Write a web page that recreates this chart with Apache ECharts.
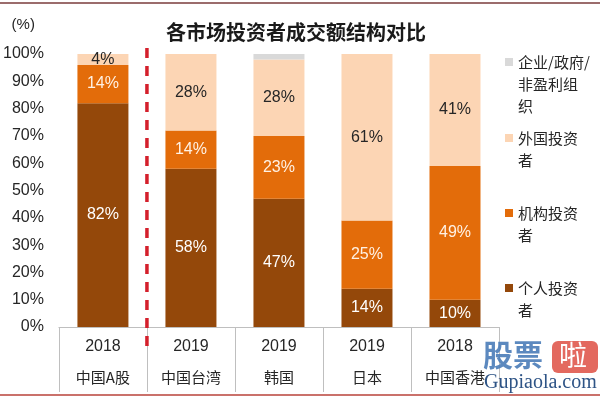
<!DOCTYPE html>
<html lang="zh">
<head>
    <meta charset="UTF-8">
    <title>各市场投资者成交额结构对比</title>
    <script src="https://cdn.jsdelivr.net/npm/echarts@6/dist/echarts.min.js"></script>
    <style>
        body { margin: 0; background: #fff; }
    </style>
</head>
<body>
    <div id="chart" style="width: 600px; height: 397px;"></div>
    <script type="text/javascript">
        // categories
        const years = ['2018', '2019', '2019', '2019', '2018'];
        const markets = ['中国A股', '中国台湾', '韩国', '日本', '中国香港'];

        // series values (%)
        const individual = [82, 58, 47, 14, 10];
        const institution = [14, 14, 23, 25, 49];
        const foreign = [4, 28, 28, 61, 41];
        const other = [0, 0, 2, 0, 0];

        const seriesNames = ['个人投资者', '机构投资者', '外国投资者', '企业/政府/非盈利组织'];
        const legendLabels = ['个人投资\n者', '机构投资\n者', '外国投资\n者', '企业/政府/\n非盈利组\n织'];
        const colors = ['#94480A', '#E36C0A', '#FCD5B4', '#D9D9D9'];
        const labelColors = ['#ffffff', '#FFF1E4', '#262626', '#262626'];

        const yTicks = { min: 0, max: 100, interval: 10 };

        const cjk = '"Noto Sans CJK SC", sans-serif';
        const latin = '"Liberation Sans", Arial, sans-serif';

        const chart = echarts.init(document.getElementById('chart'), null, { renderer: 'canvas' });

        const values = [individual, institution, foreign, other];

        // one legend per item; blank lines above the text keep the icon on its first line
        const legendIconY = [288, 213, 138, 62];
        const lh = 22;
        const legends = seriesNames.map((name, i) => {
            const lines = legendLabels[i].split('\n').length;
            const h = (2 * lines - 1) * lh;
            const pad = ' \n'.repeat(lines - 1);
            return {
                data: [name],
                orient: 'vertical',
                left: 505,
                top: legendIconY[i] - h / 2,
                padding: 0,
                itemWidth: 8,
                itemHeight: 8,
                icon: 'rect',
                formatter: () => pad + legendLabels[i],
                textStyle: {
                    fontFamily: cjk,
                    fontSize: 15,
                    color: '#262626',
                    lineHeight: lh
                }
            };
        });

        chart.setOption({
            animation: false,
            color: colors,
            title: {
                text: '各市场投资者成交额结构对比',
                left: 166,
                top: 20,
                padding: 0,
                textStyle: {
                    fontFamily: cjk,
                    fontSize: 20,
                    fontWeight: 'bold',
                    color: '#1a1a1a',
                    lineHeight: 24
                }
            },
            legend: legends,
            grid: { left: 58, right: 101, top: 54, bottom: 70 },
            xAxis: {
                type: 'category',
                data: markets,
                axisLine: { lineStyle: { color: '#BFBFBF', width: 1 } },
                axisTick: { show: true, length: 65, lineStyle: { color: '#BFBFBF' } },
                axisLabel: {
                    margin: 5,
                    formatter: (value, idx) => '{y|' + years[idx] + '}\n{n|' + value + '}',
                    rich: {
                        y: { fontFamily: latin, fontSize: 16, color: '#262626', lineHeight: 30 },
                        n: { fontFamily: cjk, fontSize: 15, color: '#262626', lineHeight: 30 }
                    }
                }
            },
            yAxis: {
                type: 'value',
                min: yTicks.min,
                max: yTicks.max,
                interval: yTicks.interval,
                name: '(%)',
                nameLocation: 'end',
                nameGap: 29,
                nameTextStyle: {
                    fontFamily: latin,
                    fontSize: 15,
                    color: '#262626',
                    align: 'right',
                    verticalAlign: 'middle',
                    padding: [0, 24, 0, 0]
                },
                splitLine: { show: false },
                axisLine: { show: false },
                axisTick: { show: false },
                axisLabel: {
                    formatter: '{value}%',
                    margin: 15,
                    fontFamily: latin,
                    fontSize: 16,
                    color: '#262626'
                }
            },
            series: seriesNames.map((name, i) => ({
                name: name,
                type: 'bar',
                stack: 'total',
                barWidth: 51,
                data: values[i],
                itemStyle: { color: colors[i] },
                label: {
                    show: i < 3,
                    position: 'inside',
                    fontFamily: latin,
                    fontSize: 16,
                    color: labelColors[i],
                    formatter: p => (p.value > 0 ? p.value + '%' : '')
                }
            }))
        });

        // red dashed divider between 中国A股 and the other markets
        const x0 = chart.convertToPixel({ xAxisIndex: 0 }, 0);
        const x1 = chart.convertToPixel({ xAxisIndex: 0 }, 1);
        const yTop = chart.convertToPixel({ yAxisIndex: 0 }, yTicks.max);
        const yBottom = chart.convertToPixel({ yAxisIndex: 0 }, yTicks.min);
        const xd = (x0 + x1) / 2;

        chart.setOption({
            graphic: [
                {
                    type: 'line',
                    shape: { x1: xd, y1: yTop - 6, x2: xd, y2: yBottom + 24 },
                    style: { stroke: '#D41F2B', lineWidth: 3.5, lineDash: [10, 8] },
                    z: 10
                },
                {
                    type: 'line',
                    shape: { x1: 0, y1: 3, x2: 600, y2: 3 },
                    style: { stroke: '#7A3B3B', lineWidth: 1.5 }
                },
                {
                    type: 'line',
                    shape: { x1: 0, y1: 395, x2: 600, y2: 395 },
                    style: { stroke: '#B8423A', lineWidth: 1.5 }
                },
                // site watermark
                {
                    type: 'text',
                    left: 483,
                    top: 340,
                    style: {
                        text: '股票',
                        fontFamily: cjk,
                        fontSize: 30,
                        fontWeight: 'bold',
                        fill: '#4A7CB8',
                        opacity: 0.9
                    },
                    z: 20
                },
                {
                    type: 'rect',
                    shape: { x: 552, y: 341, width: 46, height: 32, r: 6 },
                    style: { fill: '#E0594E', opacity: 0.9 },
                    z: 20
                },
                {
                    type: 'text',
                    left: 559,
                    top: 341,
                    style: {
                        text: '啦',
                        fontFamily: cjk,
                        fontSize: 28,
                        fill: '#ffffff'
                    },
                    z: 21
                },
                {
                    type: 'text',
                    left: 484,
                    top: 373,
                    style: {
                        text: 'Gupiaola.com',
                        fontFamily: '"Liberation Serif", serif',
                        fontSize: 20,
                        fill: '#2E5486'
                    },
                    z: 20
                }
            ]
        });
    </script>
</body>
</html>
